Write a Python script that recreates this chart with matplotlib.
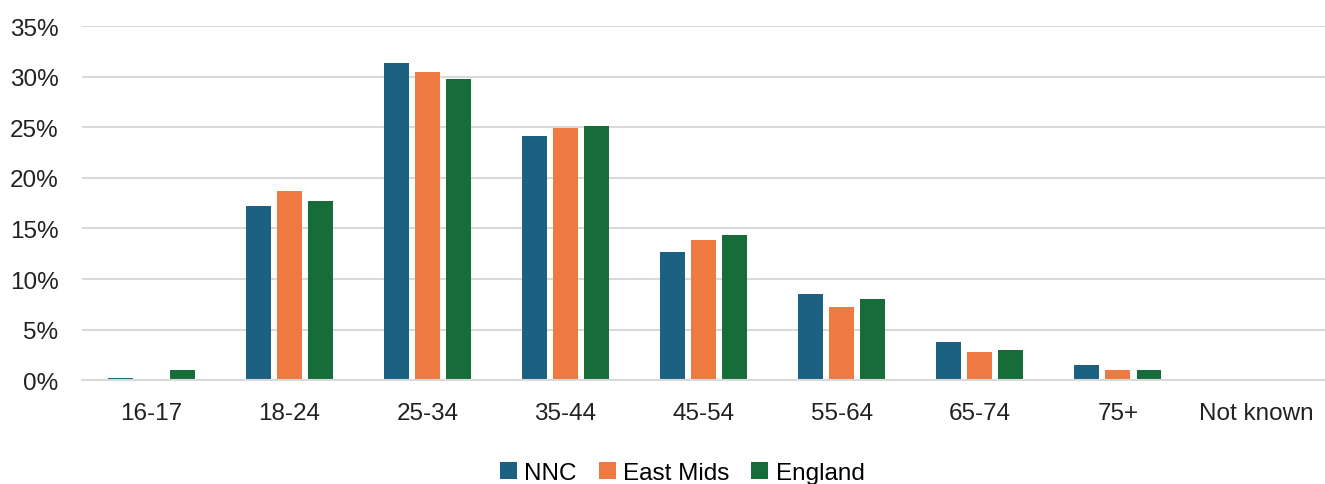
import numpy as np
import matplotlib.pyplot as plt

plt.rcParams['font.family'] = ['Liberation Sans', 'DejaVu Sans']

ages = ['16-17', '18-24', '25-34', '35-44', '45-54', '55-64', '65-74', '75+', 'Not known']
nnc = [0.2, 17.2, 31.4, 24.1, 12.7, 8.5, 3.8, 1.5, 0.0]
east_mids = [0.0, 18.7, 30.5, 24.9, 13.9, 7.2, 2.8, 1.0, 0.0]
england = [1.0, 17.7, 29.8, 25.1, 14.4, 8.0, 3.0, 1.0, 0.0]

fig = plt.figure(figsize=(13.25, 4.85), dpi=100)
ax = fig.add_axes([0.062, 0.214, 0.938, 0.73])

x = np.arange(len(ages))
w = 0.18
step = 0.225
ax.bar(x - step, nnc, w, color='#1c6182', label='NNC')
ax.bar(x, east_mids, w, color='#ee7941', label='East Mids')
ax.bar(x + step, england, w, color='#166d3a', label='England')

ax.set_xlim(-0.5, len(ages) - 0.5)
ax.set_ylim(0, 35)
ax.set_yticks(range(0, 36, 5))
ax.set_yticklabels([f'{v}%' for v in range(0, 36, 5)])
ax.set_xticks(x)
ax.set_xticklabels(ages)
ax.tick_params(length=0, labelsize=17.5, colors='#222222')
ax.tick_params(axis='x', pad=16)
ax.tick_params(axis='y', pad=17)
ax.grid(axis='y', color='#d9d9d9', linewidth=1.5)
ax.set_axisbelow(True)
for s in ['top', 'right', 'left']:
    ax.spines[s].set_visible(False)
ax.spines['bottom'].set_color('#d9d9d9')
ax.spines['bottom'].set_linewidth(1.5)

fig.legend(loc='lower center', bbox_to_anchor=(0.515, -0.045), ncol=3, frameon=False,
           fontsize=17.5, handlelength=0.7, handleheight=0.7, handletextpad=0.3,
           columnspacing=0.9)

fig.savefig('out.png', dpi=100)
